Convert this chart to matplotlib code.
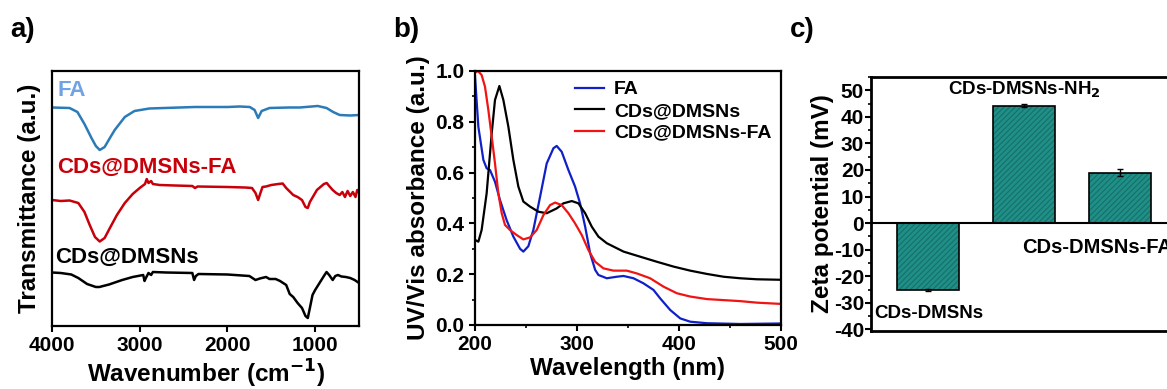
import numpy as np
import matplotlib
matplotlib.use('Agg')
import matplotlib.pyplot as plt
from matplotlib.ticker import MultipleLocator

plt.rcParams['font.family'] = ['Liberation Sans', 'DejaVu Sans']
plt.rcParams['font.weight'] = 'bold'
plt.rcParams['axes.labelweight'] = 'bold'
plt.rcParams['mathtext.default'] = 'bf'
plt.rcParams['axes.unicode_minus'] = False

################################################################################
# a) FTIR spectra (wavenumber in cm-1, transmittance in arbitrary units)
ftir_fa_wn = [4000, 3800, 3710, 3630, 3550, 3500, 3456, 3400, 3340, 3285, 3170,
              3060, 2890, 2370, 2000, 1860, 1745, 1690, 1650, 1610, 1520, 1300,
              1176, 970, 870, 795, 720, 600, 500]
ftir_fa_t = [218.5, 218, 214, 202, 188, 180, 176, 179, 188, 196, 209,
             215, 217.5, 219, 219, 219.5, 219, 216, 208, 215, 218, 218.5,
             218.5, 220, 218, 214, 211, 210.5, 211]

ftir_fa_cd_wn = [4000, 3900, 3800, 3700, 3630, 3570, 3510, 3456, 3400, 3340, 3260,
                 3170, 3080, 3000, 2940, 2920, 2900, 2870, 2850, 2772, 2600, 2400,
                 2370, 2340, 2000, 1800, 1720, 1680, 1650, 1620, 1600, 1560, 1500,
                 1420, 1370, 1330, 1290, 1250, 1200, 1150, 1110, 1084, 1060, 1020,
                 980, 900, 868, 840, 800, 760, 720, 690, 660, 630, 600, 570, 540,
                 520, 500]
ftir_fa_cd_t = [126, 125, 125.5, 123, 114, 101, 89, 84.5, 88, 98, 111,
                123, 132, 138, 142, 147, 143, 145, 142, 141, 140.5, 140,
                138, 139.5, 139, 138.5, 138, 133, 126, 134, 139, 139.5, 141,
                142, 142.5, 138, 134.5, 131, 129, 126, 119, 118, 124, 130,
                136, 142, 143, 140, 136, 133, 131, 134, 129, 135, 130, 134, 129,
                136, 134]

ftir_cd_wn = [4000, 3900, 3780, 3700, 3600, 3500, 3460, 3350, 3200, 3080, 2960,
              2945, 2930, 2900, 2870, 2850, 2700, 2400, 2380, 2360, 2330, 2000,
              1750, 1680, 1630, 1560, 1520, 1450, 1400, 1330, 1290, 1250, 1200,
              1150, 1110, 1084, 1060, 1030, 1000, 950, 900, 870, 840, 800, 770,
              740, 700, 650, 600, 550, 500]
ftir_cd_t = [53.5, 53, 51.5, 48, 42, 39, 39, 41.5, 46, 49, 51,
             45, 48, 53, 51, 54, 53.5, 53, 46, 50, 52, 51.5,
             50, 46, 47.5, 49, 47, 47, 45, 41, 32, 29, 23,
             18, 10, 8, 18, 31, 36, 43, 50, 54, 51, 46, 50,
             51, 49.5, 49, 48, 46, 43]

# b) UV/Vis absorbance
uv_fa_wl = [200, 203.3, 208.2, 211.4, 214.7, 219.6, 224.5, 231, 237.6, 244.2, 247.4,
            252.3, 257.2, 263.8, 270.3, 276.9, 280.1, 285, 291.6, 298.1, 303, 308,
            312.9, 317.8, 321, 329.2, 339, 345.6, 355.4, 365.2, 375, 381.5, 391.4,
            401.2, 411, 427.4, 460, 500]
uv_fa_a = [0.98, 0.78, 0.65, 0.617, 0.61, 0.564, 0.492, 0.413, 0.348, 0.30, 0.289,
           0.31, 0.374, 0.505, 0.636, 0.696, 0.705, 0.682, 0.61, 0.545, 0.479, 0.387,
           0.282, 0.217, 0.197, 0.184, 0.19, 0.193, 0.184, 0.164, 0.138, 0.105, 0.059,
           0.026, 0.013, 0.007, 0.004, 0.006]

uv_cd_wl = [200, 203.3, 206.5, 211.4, 216.4, 219.6, 223.9, 227.8, 232.7, 237.6, 242.5,
            247.4, 254, 262.2, 270.3, 280.1, 286.7, 294.9, 301.4, 308, 314.5, 321,
            329.2, 345.6, 361.9, 378.3, 394.6, 411, 427.4, 443.7, 460, 476.4, 500]
uv_cd_a = [0.335, 0.328, 0.374, 0.518, 0.755, 0.886, 0.941, 0.886, 0.781, 0.65, 0.545,
           0.486, 0.466, 0.446, 0.44, 0.459, 0.479, 0.488, 0.479, 0.44, 0.387, 0.348,
           0.322, 0.289, 0.269, 0.249, 0.23, 0.214, 0.201, 0.19, 0.184, 0.18, 0.178]

uv_cdfa_wl = [200, 203, 206.5, 209.8, 213.1, 216.4, 219.6, 222.9, 226.2, 229.4, 234.3,
              240.9, 247.4, 254, 260.5, 267.1, 273.6, 278.5, 285, 291.6, 298.1, 304.7,
              311.2, 317.8, 325.9, 335.8, 348.8, 358.7, 371.7, 384.8, 397.9, 411, 427.4,
              443.7, 460, 476.4, 500]
uv_cdfa_a = [0.993, 1.0, 0.984, 0.938, 0.846, 0.741, 0.636, 0.518, 0.44, 0.394, 0.374,
             0.354, 0.337, 0.345, 0.374, 0.433, 0.472, 0.482, 0.472, 0.44, 0.40, 0.354,
             0.295, 0.249, 0.223, 0.214, 0.214, 0.203, 0.184, 0.151, 0.125, 0.112, 0.102,
             0.098, 0.094, 0.088, 0.083]

# c) Zeta potential
zeta_samples = ['CDs-DMSNs', 'CDs-DMSNs-NH$_2$', 'CDs-DMSNs-FA']
zeta_mv = [-25.2, 44.2, 19.0]
zeta_err = [0.3, 0.5, 1.2]

################################################################################
fig = plt.figure(figsize=(11.67, 3.89), dpi=100)
W, H = 1167, 389

def px_axes(left, top, right, bottom):
    # axes placed from pixel edges of the reference layout
    return fig.add_axes([left / W, (H - bottom) / H, (right - left) / W, (bottom - top) / H])

tick_fs = 15
label_fs = 17.5

# ---- a) FTIR
ax = px_axes(52, 71, 359, 326)
ax.plot(ftir_fa_wn, ftir_fa_t, color='#2a7bb8', lw=1.8)
ax.plot(ftir_fa_cd_wn, ftir_fa_cd_t, color='#c8000a', lw=1.8)
ax.plot(ftir_cd_wn, ftir_cd_t, color='black', lw=1.8)
ax.set_xlim(4000, 500)
ax.set_ylim(0, 255)
ax.set_yticks([])
ax.set_xticks([4000, 3000, 2000, 1000])
ax.tick_params(axis='x', direction='out', length=4, width=1.5, labelsize=tick_fs)
for s in ax.spines.values():
    s.set_linewidth(1.6)
ax.set_xlabel('Wavenumber (cm$^{-1}$)', fontsize=label_fs, labelpad=2)
ax.set_ylabel('Transmittance (a.u.)', fontsize=label_fs, labelpad=8)
ax.text(0.017, 0.925, 'FA', transform=ax.transAxes, color='#6fa3e6',
        fontsize=16, fontweight='bold', va='center', ha='left')
ax.text(0.017, 0.62, 'CDs@DMSNs-FA', transform=ax.transAxes, color='#c8000a',
        fontsize=16, fontweight='bold', va='center', ha='left')
ax.text(0.010, 0.27, 'CDs@DMSNs', transform=ax.transAxes, color='black',
        fontsize=16, fontweight='bold', va='center', ha='left')

# ---- b) UV/Vis
ax = px_axes(475, 71, 781, 325)
ax.plot(uv_fa_wl, uv_fa_a, color='#1020c8', lw=1.6, label='FA')
ax.plot(uv_cd_wl, uv_cd_a, color='black', lw=1.6, label='CDs@DMSNs')
ax.plot(uv_cdfa_wl, uv_cdfa_a, color='#f01414', lw=1.6, label='CDs@DMSNs-FA')
ax.set_xlim(200, 500)
ax.set_ylim(0, 1.0)
ax.xaxis.set_major_locator(MultipleLocator(100))
ax.xaxis.set_minor_locator(MultipleLocator(50))
ax.yaxis.set_major_locator(MultipleLocator(0.2))
ax.yaxis.set_minor_locator(MultipleLocator(0.1))
ax.tick_params(which='major', direction='out', length=4, width=1.5, labelsize=tick_fs)
ax.tick_params(which='minor', direction='out', length=2.5, width=1.2)
for s in ax.spines.values():
    s.set_linewidth(1.6)
ax.set_xlabel('Wavelength (nm)', fontsize=label_fs, labelpad=2)
ax.set_ylabel('UV/Vis absorbance (a.u.)', fontsize=label_fs, labelpad=4)
ax.legend(loc='upper right', bbox_to_anchor=(1.0, 1.0), frameon=False, fontsize=14,
          handlelength=1.5, handletextpad=0.5, labelspacing=0.2, borderaxespad=0.1)

# ---- c) Zeta potential
ax = px_axes(871, 77, 1177, 331)
pos = np.arange(len(zeta_mv))
bars = ax.bar(pos, zeta_mv, width=0.65, color='#1f8f88', edgecolor='black', lw=1.2,
              hatch='//////', zorder=2)
for b in bars:
    b.set_hatch_linewidth(0.8)
    b._hatch_color = matplotlib.colors.to_rgba('#157068')
ax.errorbar(pos, zeta_mv, yerr=zeta_err, fmt='none', ecolor='black', elinewidth=1,
            capsize=2.5, capthick=1, zorder=3)
ax.axhline(0, color='black', lw=1.5, zorder=4)
ax.set_xlim(-0.6, 2.6)
ax.set_ylim(-40.6, 55)
ax.set_xticks([])
ax.yaxis.set_major_locator(MultipleLocator(10))
ax.yaxis.set_minor_locator(MultipleLocator(5))
ax.tick_params(which='major', direction='out', length=4, width=1.5, labelsize=tick_fs, pad=1)
ax.tick_params(which='minor', direction='out', length=2.5, width=1.2)
for s in ax.spines.values():
    s.set_linewidth(2)
ax.set_ylabel('Zeta potential (mV)', fontsize=label_fs, labelpad=0)
ax.text(pos[1], 50, zeta_samples[1], fontsize=13.5, fontweight='bold', ha='center', va='center')
ax.text(pos[0], -34, zeta_samples[0], fontsize=13.5, fontweight='bold', ha='center', va='center')
ax.text(0.98, -9, zeta_samples[2], fontsize=14.5, fontweight='bold', ha='left', va='center')

# panel letters
fig.text(10 / W, 1 - 30 / H, 'a)', fontsize=20, fontweight='bold', va='center')
fig.text(393 / W, 1 - 30 / H, 'b)', fontsize=20, fontweight='bold', va='center')
fig.text(790 / W, 1 - 30 / H, 'c)', fontsize=20, fontweight='bold', va='center')

fig.savefig('out.png', dpi=100)
